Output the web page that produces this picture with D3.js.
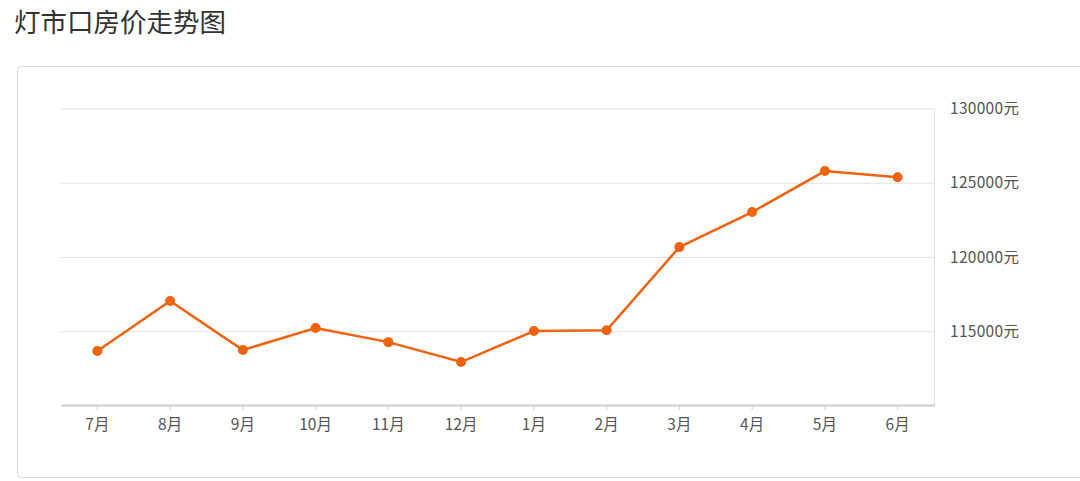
<!DOCTYPE html>
<html><head><meta charset="utf-8">
<script src="https://cdn.jsdelivr.net/npm/d3@7/dist/d3.min.js"></script>
<style>body{margin:0;background:#fff;font-family:"Noto Sans CJK SC","Noto Sans",sans-serif}</style>
</head><body><svg id="c" width="1080" height="481"></svg>
<script>
const months = ["7月","8月","9月","10月","11月","12月","1月","2月","3月","4月","5月","6月"];
const prices = [113700,117070,113770,115250,114300,112960,115050,115100,120700,123060,125820,125410];
const yTicks = [115000,120000,125000,130000];

const svg = d3.select("#c");
svg.append("text").attr("x",14).attr("y",32).attr("font-size",26.5).attr("fill","#333").text("灯市口房价走势图");
svg.append("rect").attr("x",17.5).attr("y",66.5).attr("width",1080).attr("height",411).attr("rx",4)
  .attr("fill","#fff").attr("stroke","#d8d8d8");

const x = d3.scaleBand().domain(months).range([61,934]);
const y = d3.scaleLinear().domain([110000,130000]).range([406,109]);

svg.append("g").selectAll("line").data(yTicks).join("line")
  .attr("x1",61).attr("x2",934).attr("y1",d=>y(d)).attr("y2",d=>y(d)).attr("stroke","#e3e3e3");
svg.append("line").attr("x1",934.5).attr("x2",934.5).attr("y1",y(130000)).attr("y2",406).attr("stroke","#e3e3e3");
svg.append("g").selectAll("text").data(yTicks).join("text")
  .attr("x",950).attr("y",d=>y(d)+5).attr("font-size",15.5).attr("letter-spacing",0.3).attr("fill","#555").text(d=>d+"元");

const xa = svg.append("g").attr("transform","translate(0,405)")
  .call(d3.axisBottom(x).tickSize(5).tickSizeOuter(0));
xa.select(".domain").attr("stroke","#ccc").attr("stroke-width",2);
xa.selectAll(".tick line").attr("stroke","#ccc");
xa.selectAll("text").attr("font-size",15.5).attr("fill","#555").attr("dy","1.1em")
  .attr("font-family","'Noto Sans CJK SC',sans-serif");

const cx = d=>x(d)+x.bandwidth()/2;
svg.append("path").datum(months.map((m,i)=>[cx(m),y(prices[i])]))
  .attr("d",d3.line()).attr("fill","none").attr("stroke","#f0630f").attr("stroke-width",2.5);
svg.append("g").selectAll("circle").data(months).join("circle")
  .attr("cx",cx).attr("cy",(d,i)=>y(prices[i])).attr("r",5).attr("fill","#f0630f");
</script></body></html>
